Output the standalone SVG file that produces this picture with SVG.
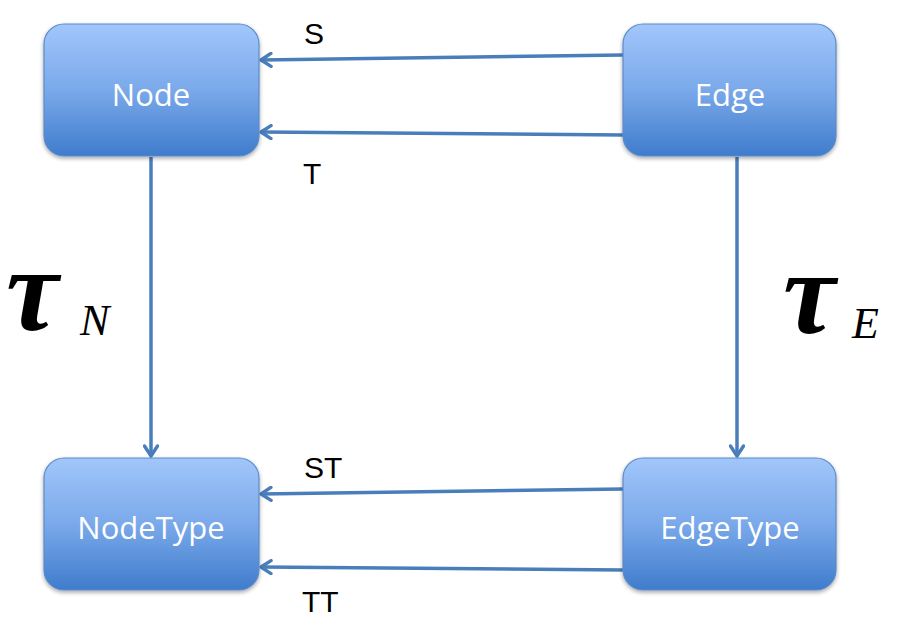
<svg xmlns="http://www.w3.org/2000/svg" width="900" height="626" viewBox="0 0 900 626">
<defs>
<linearGradient id="g" x1="0" y1="0" x2="0" y2="1">
<stop offset="0" stop-color="#a1c6fb"/>
<stop offset="0.5" stop-color="#7aa9ea"/>
<stop offset="1" stop-color="#3f7ccc"/>
</linearGradient>
<filter id="sh" x="-10%" y="-10%" width="120%" height="130%">
<feGaussianBlur in="SourceAlpha" stdDeviation="2"/>
<feOffset dy="2"/>
<feComponentTransfer><feFuncA type="linear" slope="0.35"/></feComponentTransfer>
<feMerge><feMergeNode/><feMergeNode in="SourceGraphic"/></feMerge>
</filter>
<marker id="ah" markerWidth="16" markerHeight="16" refX="12" refY="8" orient="auto" markerUnits="userSpaceOnUse">
<path d="M2,1.5 L12,8 L2,14.5" fill="none" stroke="#4a7ebb" stroke-width="3.4" stroke-linecap="round" stroke-linejoin="round"/>
</marker>
</defs>
<style>
.box{fill:url(#g);stroke:#5b8bc9;stroke-width:1.2;filter:url(#sh)}
.bt{font-family:"Open Sans","Noto Sans",sans-serif;font-size:31px;fill:#fff;text-anchor:middle}
.c{fill:none;stroke:#4a7ebb;stroke-width:3.5}
.lbl{font-family:"Liberation Sans",Arial,sans-serif;font-size:30px;fill:#000}
.tau{font-family:"Liberation Serif","Times New Roman",serif;font-weight:bold;font-style:italic;font-size:118px;fill:#000}
.sub{font-family:"Liberation Serif","Times New Roman",serif;font-style:italic;font-size:44px;fill:#000}
</style>
<rect width="900" height="626" fill="#fff"/>
<g id="connectors">
<line class="c" x1="623" y1="55" x2="261" y2="60" marker-end="url(#ah)"/>
<line class="c" x1="623" y1="135" x2="261" y2="132" marker-end="url(#ah)"/>
<line class="c" x1="623" y1="489" x2="261" y2="494" marker-end="url(#ah)"/>
<line class="c" x1="623" y1="570" x2="261" y2="567" marker-end="url(#ah)"/>
<line class="c" x1="151" y1="157" x2="151" y2="456" marker-end="url(#ah)"/>
<line class="c" x1="737" y1="157" x2="737" y2="456" marker-end="url(#ah)"/>
<text class="lbl" x="304" y="44">S</text>
<text class="lbl" x="303" y="184">T</text>
<text class="lbl" x="304" y="478">ST</text>
<text class="lbl" x="302" y="612">TT</text>
</g>
<g id="node-Node"><rect class="box" x="44" y="24" width="215" height="132" rx="20"/><text class="bt" x="151" y="106">Node</text></g>
<g id="node-Edge"><rect class="box" x="623" y="24" width="213" height="132" rx="20"/><text class="bt" x="730" y="106">Edge</text></g>
<g id="node-NodeType"><rect class="box" x="44" y="458" width="215" height="132" rx="20"/><text class="bt" x="151" y="539">NodeType</text></g>
<g id="node-EdgeType"><rect class="box" x="623" y="458" width="213" height="132" rx="20"/><text class="bt" x="730" y="539">EdgeType</text></g>
<g id="label-tauN"><text class="tau" x="6" y="330">τ</text><text class="sub" x="80" y="335">N</text></g>
<g id="label-tauE"><text class="tau" x="783" y="333">τ</text><text class="sub" x="852" y="338">E</text></g>
</svg>
